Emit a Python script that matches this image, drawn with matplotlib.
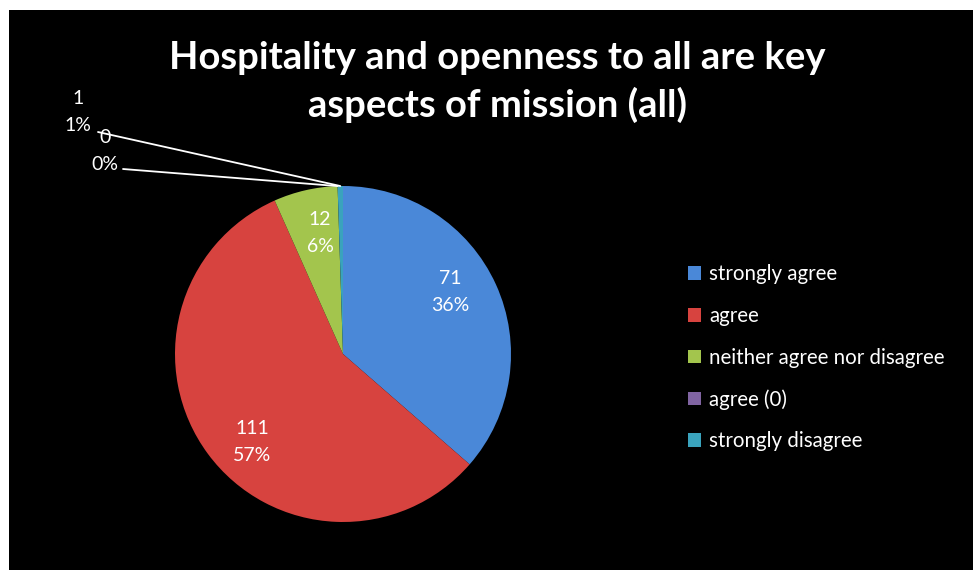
import matplotlib.pyplot as plt
from matplotlib.patches import Rectangle
import numpy as np

# data
categories = ['strongly agree', 'agree', 'neither agree nor disagree', 'agree (0)', 'strongly disagree']
counts = [71, 111, 12, 0, 1]
colors = ['#4a88d8', '#d7433f', '#a3c54d', '#8064a2', '#3aa3bd']
title = 'Hospitality and openness to all are key\naspects of mission (all)'

plt.rcParams['font.family'] = ['Lato', 'DejaVu Sans']

W, H = 973, 570
fig = plt.figure(figsize=(W / 100, H / 100), dpi=100)
fig.patch.set_facecolor('white')
fig.add_artist(Rectangle((9 / W, 0), (W - 9) / W, (H - 10) / H, transform=fig.transFigure,
                         facecolor='black', edgecolor='none', zorder=0))

# pie centre and radius in pixels
cx, cy, r = 343, 354, 168
ax = fig.add_axes([(cx - r) / W, (H - cy - r) / H, 2 * r / W, 2 * r / H])

total = sum(counts)
wedges, _ = ax.pie(counts, colors=colors, startangle=90, counterclock=False, radius=1,
                   wedgeprops=dict(linewidth=0))
ax.set_xlim(-1, 1)
ax.set_ylim(-1, 1)
ax.axis('off')

def px(x, y):
    return (x / W, 1 - y / H)

# inside labels
inside = {0: (450, 292), 1: (252, 442), 2: (320, 233)}
for i, (x, y) in inside.items():
    pct = round(100 * counts[i] / total)
    fig.text(*px(x, y), f'{counts[i]}\n{pct}%', color='white', fontsize=14,
             ha='center', va='center', linespacing=1.7)

# outside labels with leader lines
outside = {4: (78, 112, (98, 132)), 3: (105, 151, (123, 169))}
for i, (x, y, end) in outside.items():
    pct = round(100 * counts[i] / total)
    w = wedges[i]
    th = np.deg2rad((w.theta1 + w.theta2) / 2)
    ax.annotate('', xy=(np.cos(th), np.sin(th)), xycoords='data',
                xytext=px(*end), textcoords='figure fraction',
                arrowprops=dict(arrowstyle='-', color='white', lw=1.3, shrinkA=0, shrinkB=0))
    fig.text(*px(x, y), f'{counts[i]}\n{pct}%', color='white', fontsize=14,
             ha='center', va='center', linespacing=1.7)

fig.text(0.511, 1 - 82 / H, title, color='white', fontsize=27.5, fontweight='bold',
         ha='center', va='center', linespacing=1.36)

leg = fig.legend(wedges, categories, loc='upper left', bbox_to_anchor=(669 / W, 1 - 246 / H),
                 frameon=False, labelcolor='white', fontsize=14.8, handlelength=0.65,
                 handleheight=0.65, handletextpad=0.4, labelspacing=1.05)

fig.savefig('out.png', dpi=100, facecolor=fig.get_facecolor())
